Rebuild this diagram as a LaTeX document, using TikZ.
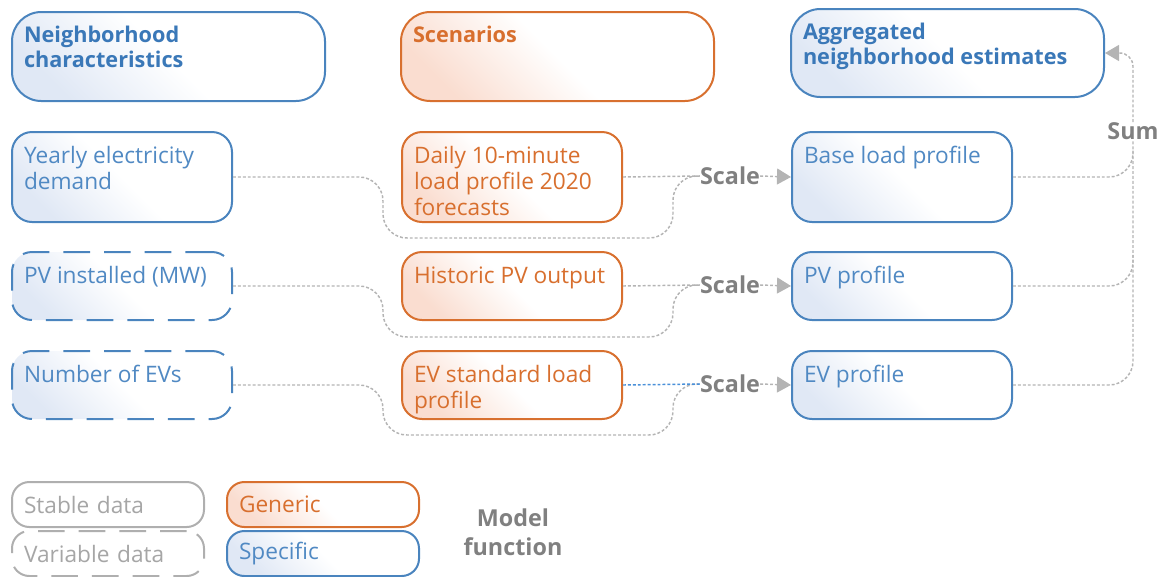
\documentclass[tikz,border=0pt]{standalone}
\usepackage{fontspec}
\setmainfont{Open Sans}
\usetikzlibrary{arrows.meta}

\definecolor{edgeblue}{HTML}{4A84BE}
\definecolor{inkblue}{HTML}{5089C3}
\definecolor{headblue}{HTML}{3A78B8}
\definecolor{edgeorange}{HTML}{D8702F}
\definecolor{inkorange}{HTML}{D86F2E}
\definecolor{tintblue}{HTML}{E0E8F5}
\definecolor{tintorange}{HTML}{FADDD0}
\definecolor{edgegray}{HTML}{AFAFAF}
\definecolor{inkgray}{HTML}{A6A6A6}
\definecolor{opgray}{HTML}{808080}
\definecolor{wiregray}{HTML}{B4B4B4}
\definecolor{wireblue}{HTML}{4A90D9}

\newcommand{\bodyfont}{\fontsize{17pt}{19.5pt}\selectfont}
\newcommand{\headfont}{\fontsize{16.25pt}{18.75pt}\selectfont\bfseries}
\newcommand{\opfont}{\fontsize{17.5pt}{21.75pt}\selectfont\bfseries}
% text block pinned to the top-left of a box #1 wide and #2 high (in pt)
\newcommand{\topblock}[3]{\parbox[t][\dimexpr#2pt-20pt\relax][t]{\dimexpr#1pt-18pt\relax}{\raggedright\strut#3}}

% the y axis points down here, so the tint sits on the "bottom" colour of the shading
\tikzset{
  card/.style={rounded corners=15pt, line width=1.5pt, inner xsep=9pt, inner ysep=10pt,
               anchor=north west, font=\bodyfont},
  headcard/.style={rounded corners=22pt, font=\headfont},
  bluecard/.style={draw=edgeblue, text=inkblue, top color=white, bottom color=tintblue,
                   middle color=white, shading angle=-45},
  orangecard/.style={draw=edgeorange, text=inkorange, top color=white, bottom color=tintorange,
                     middle color=white, shading angle=-45},
  vardash/.style={dash pattern=on 20pt off 10.5pt},
  key/.style={rounded corners=13pt, line width=1.5pt, inner xsep=9pt, inner ysep=0pt,
              anchor=north west, font=\bodyfont, minimum height=33.75pt, text width=126pt, align=left},
  graykey/.style={draw=edgegray, text=inkgray, fill=white},
  op/.style={font=\opfont, text=opgray, inner sep=0pt, align=center},
  wire/.style={draw=wiregray, line width=1.1pt, dash pattern=on 2.2pt off 1.5pt, rounded corners=18pt},
  tip/.style={-{Triangle[length=10.5pt,width=12pt,fill=wiregray]}},
}

\begin{document}
\begin{tikzpicture}[x=0.75pt, y=-0.75pt]
\useasboundingbox (0,0) rectangle (1167,576);

% column headers
\node[card, headcard, bluecard, text=headblue] (nbh) at (11,11)
  {\topblock{234.75}{66.75}{Neighborhood\\characteristics}};
\node[card, headcard, orangecard] (scen) at (400,11)
  {\topblock{234.75}{66.75}{Scenarios}};
\node[card, headcard, bluecard, text=headblue] (agg) at (790,8)
  {\topblock{234.75}{66}{Aggregated\\neighborhood estimates}};

% inputs
\node[card, bluecard] (yearly) at (11,131) {\topblock{165}{67.5}{Yearly electricity\\demand}};
\node[card, bluecard, vardash] (pvin) at (11,251) {\topblock{165}{51}{PV installed (MW)}};
\node[card, bluecard, vardash] (evn) at (11,350) {\topblock{165}{51}{Number of EVs}};

% scenarios
\node[card, orangecard] (daily) at (401,131) {\topblock{165}{67.5}{Daily 10-minute\\load profile 2020\\forecasts}};
\node[card, orangecard] (hist) at (401,251) {\topblock{165}{51}{Historic PV output}};
\node[card, orangecard] (evstd) at (401,350) {\topblock{165}{51}{EV standard load\\profile}};

% profiles
\node[card, bluecard] (base) at (791,131) {\topblock{165}{67.5}{Base load profile}};
\node[card, bluecard] (pvp) at (791,251) {\topblock{165}{51}{PV profile}};
\node[card, bluecard] (evp) at (791,350) {\topblock{165}{51}{EV profile}};

% model functions
\node[op] (sc1) at (730,176) {Scale};
\node[op] (sc2) at (730,285) {Scale};
\node[op] (sc3) at (730,384) {Scale};
\node[op] (sum) at (1133,131) {Sum};

% scaling connectors
\draw[wire] (yearly.east) -| (383,238) -| (673,176) -- (sc1.west);
\draw[wire] (daily.east) -- (sc1.west);
\draw[wire, tip] (sc1.east) -- (base.west);

\draw[wire] (pvin.east) -| (383,337) -| (673,285) -- (sc2.west);
\draw[wire] (hist.east) -- (sc2.west);
\draw[wire, tip] (sc2.east) -- (pvp.west);

\draw[wire] (evn.east) -| (383,435) -| (673,384) -- (sc3.west);
\draw[wire, draw=wireblue] (evstd.east) -- (sc3.west);
\draw[wire, tip] (sc3.east) -- (evp.west);

% summation
\coordinate (j1) at (1133,150);
\coordinate (j2) at (1133,255);
\draw[wire] (evp.east) -| (sum.south);
\draw[wire] (pvp.east) -| (j2);
\draw[wire] (base.east) -| (j1);
\draw[wire, tip, rounded corners=10pt] (sum.north) |- (agg.east);

% legend
\node[key, graykey] (stable) at (11,481) {Stable data};
\node[key, graykey, vardash] (vardata) at (11,530) {Variable data};
\node[key, orangecard] (generic) at (226,481) {Generic};
\node[key, bluecard] (specific) at (226,530) {Specific};
\node[op] (model) at (513,532) {Model\\function};
\end{tikzpicture}
\end{document}
